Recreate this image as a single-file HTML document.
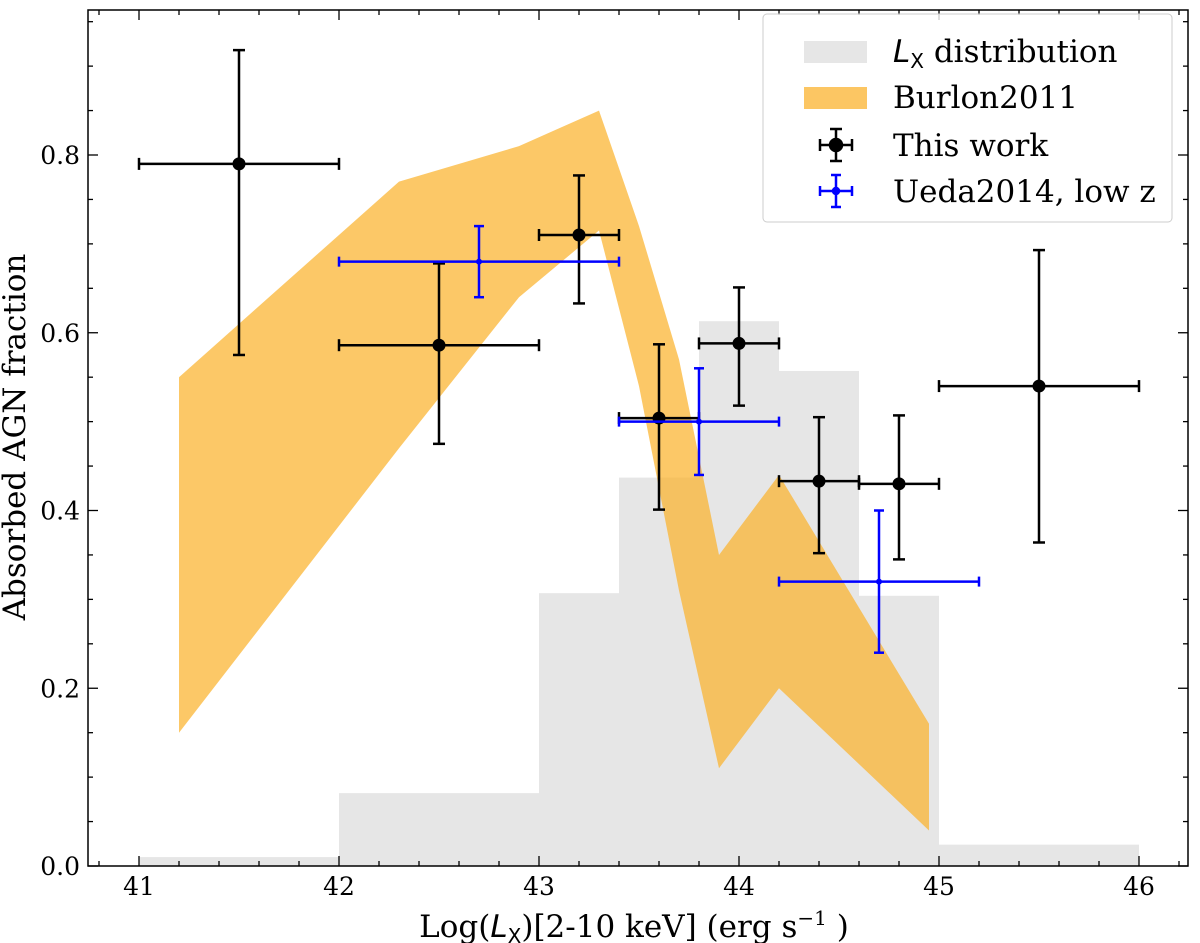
<!DOCTYPE html>
<html><head><meta charset="utf-8"><style>
body{margin:0;background:#fff;}
svg{display:block;font-family:"DejaVu Serif","Liberation Serif",serif;}
</style></head><body>
<svg id="chart" width="1200" height="943" viewBox="0 0 1200 943" xmlns="http://www.w3.org/2000/svg">
<g id="hist"></g>
<g id="band"></g>
<g id="pts"></g>
<g id="axes"></g>
<g id="legend">
<rect x="763" y="14" width="409" height="208" rx="4" fill="#fff" fill-opacity="0.8" stroke="#ccc"/>
<rect x="804" y="41" width="63" height="22" fill="#e6e6e6"/>
<text x="893" y="62" font-size="31"><tspan font-style="italic" font-family="DejaVu Sans,sans-serif">L</tspan><tspan font-size="20" dy="6" font-family="DejaVu Sans,sans-serif">X</tspan><tspan dy="-6"> distribution</tspan></text>
<rect x="804" y="87" width="63" height="22" fill="#fcc663"/>
<text x="893" y="108" font-size="31">Burlon2011</text>
<g stroke="#000" stroke-width="2.5"><line x1="820" y1="145" x2="852" y2="145"/><line x1="836" y1="129" x2="836" y2="161"/><line x1="820" y1="139" x2="820" y2="151"/><line x1="852" y1="139" x2="852" y2="151"/><line x1="830" y1="129" x2="842" y2="129"/><line x1="830" y1="161" x2="842" y2="161"/><circle cx="836" cy="145" r="6" fill="#000"/></g>
<text x="893" y="156" font-size="31">This work</text>
<g stroke="#0000ff" stroke-width="2.5"><line x1="820" y1="191" x2="852" y2="191"/><line x1="836" y1="175" x2="836" y2="207"/><line x1="820" y1="186" x2="820" y2="196"/><line x1="852" y1="186" x2="852" y2="196"/><line x1="831" y1="175" x2="841" y2="175"/><line x1="831" y1="207" x2="841" y2="207"/><circle cx="836" cy="191" r="3" fill="#0000ff"/></g>
<text x="893" y="202" font-size="31">Ueda2014, low z</text>
</g>
<text x="634" y="937" font-size="31" text-anchor="middle">Log(<tspan font-style="italic" font-family="DejaVu Sans,sans-serif">L</tspan><tspan font-size="20" dy="6" font-family="DejaVu Sans,sans-serif">X</tspan><tspan dy="-6">)[2-10 keV] (erg s</tspan><tspan font-size="20" dy="-12">−1</tspan><tspan dy="12"> )</tspan></text>
<text transform="translate(25,437) rotate(-90)" font-size="31" text-anchor="middle">Absorbed AGN fraction</text>
</svg>
<script>
const histEdges=[41,42,43,43.4,43.8,44.2,44.6,45,46];
const histValues=[0.01,0.082,0.307,0.437,0.613,0.557,0.304,0.024];
const bandX=[41.2,42.3,42.9,43.3,43.5,43.7,43.9,44.2,44.95];
const bandUpper=[0.55,0.77,0.81,0.85,0.72,0.57,0.35,0.44,0.16];
const bandLower=[0.15,0.47,0.64,0.715,0.54,0.31,0.11,0.20,0.04];
const workX=[41.5,42.5,43.2,43.6,44.0,44.4,44.8,45.5];
const workY=[0.79,0.586,0.71,0.504,0.588,0.433,0.43,0.54];
const workXLo=[41,42,43,43.4,43.8,44.2,44.6,45];
const workXHi=[42,43,43.4,43.8,44.2,44.6,45,46];
const workYLo=[0.575,0.475,0.633,0.401,0.518,0.352,0.345,0.364];
const workYHi=[0.918,0.678,0.777,0.587,0.651,0.505,0.507,0.693];
const uedaX=[42.7,43.8,44.7];
const uedaY=[0.68,0.50,0.32];
const uedaXLo=[42.0,43.4,44.2];
const uedaXHi=[43.4,44.2,45.2];
const uedaYLo=[0.64,0.44,0.24];
const uedaYHi=[0.72,0.56,0.40];
const xTicks=[41,42,43,44,45,46];
const yTicks=[0.0,0.2,0.4,0.6,0.8];

const L=88,R=1188,T=10,B=866;
const sx=v=>139+(v-41)*200;
const sy=v=>866-v*888.75;
const NS='http://www.w3.org/2000/svg';
function mk(tag,attrs,parent){const e=document.createElementNS(NS,tag);for(const k in attrs)e.setAttribute(k,attrs[k]);parent.appendChild(e);return e;}

const hist=document.getElementById('hist');
histValues.forEach((v,i)=>{
 const r=mk('rect',{x:sx(histEdges[i]),y:sy(v),width:sx(histEdges[i+1])-sx(histEdges[i]),height:B-sy(v),fill:'#e6e6e6'},hist);
 
 
});
const band=document.getElementById('band');
let pts=bandX.map((x,i)=>sx(x)+','+sy(bandUpper[i]));
for(let i=bandX.length-1;i>=0;i--)pts.push(sx(bandX[i])+','+sy(bandLower[i]));
const poly=mk('polygon',{points:pts.join(' '),fill:'#fbb026','fill-opacity':0.7},band);



const pg=document.getElementById('pts');
function errbar(x,y,xl,xh,yl,yh,col,r,cap,name){
 const g=mk('g',{stroke:col,'stroke-width':2.5},pg);
 
 
 mk('line',{x1:sx(xl),y1:sy(y),x2:sx(xh),y2:sy(y)},g);
 mk('line',{x1:sx(x),y1:sy(yl),x2:sx(x),y2:sy(yh)},g);
 mk('line',{x1:sx(xl),y1:sy(y)-cap,x2:sx(xl),y2:sy(y)+cap},g);
 mk('line',{x1:sx(xh),y1:sy(y)-cap,x2:sx(xh),y2:sy(y)+cap},g);
 mk('line',{x1:sx(x)-cap,y1:sy(yl),x2:sx(x)+cap,y2:sy(yl)},g);
 mk('line',{x1:sx(x)-cap,y1:sy(yh),x2:sx(x)+cap,y2:sy(yh)},g);
 mk('circle',{cx:sx(x),cy:sy(y),r:r,fill:col,stroke:'none'},g);
}
workX.forEach((x,i)=>errbar(x,workY[i],workXLo[i],workXHi[i],workYLo[i],workYHi[i],'#000',6.5,6,'this-work-point'));
uedaX.forEach((x,i)=>errbar(x,uedaY[i],uedaXLo[i],uedaXHi[i],uedaYLo[i],uedaYHi[i],'#0000ff',3,5,'ueda-point'));

const ax=document.getElementById('axes');
const fr=mk('rect',{x:L,y:T,width:R-L,height:B-T,fill:'none',stroke:'#000','stroke-width':1.5},ax);


for(let v=40.8;v<=46.21;v+=0.2){const X=sx(v);if(X<L||X>R)continue;
 const major=Math.abs(v-Math.round(v))<1e-6;const l=major?10:5;
 mk('line',{x1:X,y1:B,x2:X,y2:B-l,stroke:'#000','stroke-width':1.3},ax);
 mk('line',{x1:X,y1:T,x2:X,y2:T+l,stroke:'#000','stroke-width':1.3},ax);}
for(let v=0;v<=0.96;v+=0.05){const Y=sy(v);if(Y<T)continue;
 const major=Math.abs(v*5-Math.round(v*5))<1e-6;const l=major?10:5;
 mk('line',{x1:L,y1:Y,x2:L+l,y2:Y,stroke:'#000','stroke-width':1.3},ax);
 mk('line',{x1:R,y1:Y,x2:R-l,y2:Y,stroke:'#000','stroke-width':1.3},ax);}
xTicks.forEach(t=>{const e=mk('text',{x:sx(t),y:895,'font-size':25,'text-anchor':'middle'},ax);e.textContent=t;
 
 });
yTicks.forEach(t=>{const e=mk('text',{x:80,y:sy(t)+9,'font-size':25,'text-anchor':'end'},ax);e.textContent=t.toFixed(1);
 
 });
</script>
</body></html>
